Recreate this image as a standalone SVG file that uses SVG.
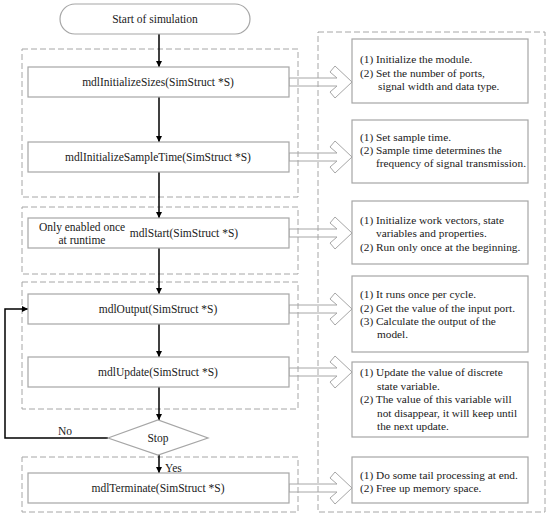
<svg xmlns="http://www.w3.org/2000/svg" width="550" height="517" viewBox="0 0 550 517">
<defs>
<marker id="ah" viewBox="0 0 10 10" refX="10" refY="5" markerWidth="6" markerHeight="6" markerUnits="userSpaceOnUse" orient="auto">
<path d="M0,0 L10,5 L0,10 Z" fill="#000"/>
</marker>
<style>
.grp{fill:none;stroke:#a6a6a6;stroke-width:1;stroke-dasharray:6,3}
.box{fill:#fff;stroke:#a6a6a6;stroke-width:1.2}
.t{font-family:"Liberation Serif","Times New Roman",serif;font-size:11.5px;fill:#1a1a1a}
.n{font-size:11.3px}
.c{text-anchor:middle}
.conn{fill:none;stroke:#000;stroke-width:1.5}
.ha{fill:none;stroke:#a6a6a6;stroke-width:1}
</style>
</defs>
<rect width="550" height="517" fill="#fff"/>
<g id="groups">
<rect class="grp" x="22" y="49" width="276" height="148"/>
<rect class="grp" x="22" y="207" width="276" height="67"/>
<rect class="grp" x="22" y="282" width="276" height="127"/>
<rect class="grp" x="22" y="457" width="276" height="55"/>
<rect class="grp" x="318" y="32" width="227" height="480"/>
</g>
<g id="connectors">
<line class="conn" x1="159" y1="34" x2="159" y2="67" marker-end="url(#ah)"/>
<line class="conn" x1="159" y1="97" x2="159" y2="142" marker-end="url(#ah)"/>
<line class="conn" x1="159" y1="172" x2="159" y2="218" marker-end="url(#ah)"/>
<line class="conn" x1="159" y1="248" x2="159" y2="294" marker-end="url(#ah)"/>
<line class="conn" x1="159" y1="324" x2="159" y2="357" marker-end="url(#ah)"/>
<line class="conn" x1="159" y1="387" x2="159" y2="420" marker-end="url(#ah)"/>
<line class="conn" x1="159" y1="454" x2="159" y2="473" marker-end="url(#ah)"/>
<polyline class="conn" points="108,438 5,438 5,309 28,309" marker-end="url(#ah)"/>
<text class="t" x="58" y="435">No</text>
<text class="t" x="165" y="472">Yes</text>
<g id="hollow-arrows">
<polygon class="ha" points="289,78 337,78 330,72 335,66 352,82 335,98 330,92 337,86 289,86"/>
<polygon class="ha" points="289,153 337,153 330,147 335,141 352,157 335,173 330,167 337,161 289,161"/>
<polygon class="ha" points="289,229 337,229 330,223 335,217 352,233 335,249 330,243 337,237 289,237"/>
<polygon class="ha" points="289,305 337,305 330,299 335,293 352,309 335,325 330,319 337,313 289,313"/>
<polygon class="ha" points="289,368 337,368 330,362 335,356 352,372 335,388 330,382 337,376 289,376"/>
<polygon class="ha" points="289,484 337,484 330,478 335,472 352,488 335,504 330,498 337,492 289,492"/>
</g>
</g>
<g id="start">
<rect class="box" x="60" y="4" width="190" height="30" rx="15"/>
<text class="t c" x="155" y="23">Start of simulation</text>
</g>
<g id="sizes">
<rect class="box" x="28" y="67" width="261" height="30"/>
<text class="t c" x="158" y="86">mdlInitializeSizes(SimStruct *S)</text>
</g>
<g id="sampletime">
<rect class="box" x="28" y="142" width="261" height="30"/>
<text class="t c" x="158" y="161">mdlInitializeSampleTime(SimStruct *S)</text>
</g>
<g id="start-fn">
<rect class="box" x="28" y="218" width="261" height="30"/>
<text class="t c" x="82" y="231">Only enabled once</text>
<text class="t c" x="82" y="244">at runtime</text>
<text class="t c" x="184" y="237">mdlStart(SimStruct *S)</text>
</g>
<g id="output">
<rect class="box" x="28" y="294" width="261" height="30"/>
<text class="t c" x="158" y="313">mdlOutput(SimStruct *S)</text>
</g>
<g id="update">
<rect class="box" x="28" y="357" width="261" height="30"/>
<text class="t c" x="158" y="376">mdlUpdate(SimStruct *S)</text>
</g>
<g id="stop">
<polygon class="box" points="108,438 158,420 208,438 158,455"/>
<text class="t c" x="158" y="442">Stop</text>
</g>
<g id="terminate">
<rect class="box" x="28" y="473" width="261" height="30"/>
<text class="t c" x="158" y="492">mdlTerminate(SimStruct *S)</text>
</g>
<g id="note1">
<rect class="box" x="352" y="39" width="176" height="64"/>
<text class="t n" x="360" y="63">(1) Initialize the module.</text>
<text class="t n" x="360" y="77">(2) Set the number of ports,</text>
<text class="t n" x="378" y="90">signal width and data type.</text>
</g>
<g id="note2">
<rect class="box" x="352" y="120" width="176" height="63"/>
<text class="t n" x="360" y="141">(1) Set sample time.</text>
<text class="t n" x="360" y="154">(2) Sample time determines the</text>
<text class="t n" x="376" y="167">frequency of signal transmission.</text>
</g>
<g id="note3">
<rect class="box" x="352" y="201" width="176" height="63"/>
<text class="t n" x="360" y="224">(1) Initialize work vectors, state</text>
<text class="t n" x="376" y="237">variables and properties.</text>
<text class="t n" x="360" y="251">(2) Run only once at the beginning.</text>
</g>
<g id="note4">
<rect class="box" x="352" y="276" width="176" height="76"/>
<text class="t n" x="360" y="298">(1) It runs once per cycle.</text>
<text class="t n" x="360" y="312">(2) Get the value of the input port.</text>
<text class="t n" x="360" y="325">(3) Calculate the output of the</text>
<text class="t n" x="377" y="338">model.</text>
</g>
<g id="note5">
<rect class="box" x="352" y="362" width="176" height="75"/>
<text class="t n" x="360" y="376">(1) Update the value of discrete</text>
<text class="t n" x="377" y="390">state variable.</text>
<text class="t n" x="360" y="403">(2) The value of this variable will</text>
<text class="t n" x="377" y="417">not disappear, it will keep until</text>
<text class="t n" x="377" y="430">the next update.</text>
</g>
<g id="note6">
<rect class="box" x="352" y="457" width="176" height="46"/>
<text class="t n" x="360" y="479">(1) Do some tail processing at end.</text>
<text class="t n" x="360" y="492">(2) Free up memory space.</text>
</g>
</svg>
